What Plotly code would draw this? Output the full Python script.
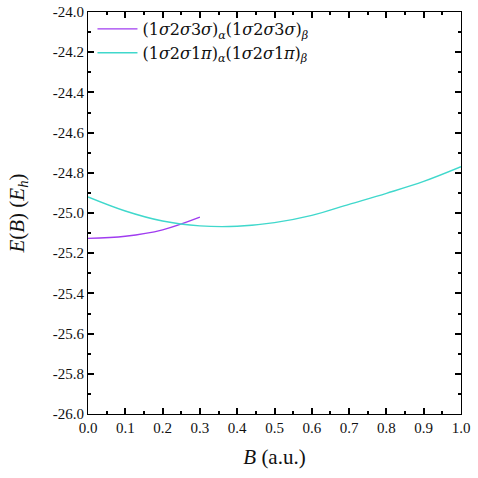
import plotly.graph_objects as go

# Data
b_sigma = [0.0, 0.1, 0.2, 0.3]
e_sigma = [-25.126, -25.116, -25.084, -25.021]

b_pi = [0.0, 0.1, 0.2, 0.3, 0.4, 0.5, 0.6, 0.7, 0.8, 0.9, 1.0]
e_pi = [-24.92, -24.990, -25.040, -25.064, -25.066, -25.048, -25.012, -24.957, -24.902, -24.843, -24.77]

x_ticks = [0.0, 0.1, 0.2, 0.3, 0.4, 0.5, 0.6, 0.7, 0.8, 0.9, 1.0]
y_ticks = [-26.0, -25.8, -25.6, -25.4, -25.2, -25.0, -24.8, -24.6, -24.4, -24.2, -24.0]

name_sigma = "(1<i>σ</i>2<i>σ</i>3<i>σ</i>)<sub><i>α</i></sub>(1<i>σ</i>2<i>σ</i>3<i>σ</i>)<sub><i>β</i></sub>"
name_pi = "(1<i>σ</i>2<i>σ</i>1<i>π</i>)<sub><i>α</i></sub>(1<i>σ</i>2<i>σ</i>1<i>π</i>)<sub><i>β</i></sub>"

FONT = "Liberation Serif, DejaVu Serif, serif"
LFONT = "DejaVu Serif, Liberation Serif, serif"
INK = "#111111"

fig = go.Figure()
fig.add_trace(go.Scatter(x=b_sigma, y=e_sigma, mode="lines", name=name_sigma,
                         line=dict(color="#a03cf0", width=1.4, shape="spline", smoothing=1.0)))
fig.add_trace(go.Scatter(x=b_pi, y=e_pi, mode="lines", name=name_pi,
                         line=dict(color="#40d8cc", width=1.4, shape="spline", smoothing=1.0)))

axis_common = dict(showline=True, linecolor="black", linewidth=1,
                   mirror="allticks", ticks="inside", ticklen=6,
                   tickcolor="black", tickwidth=1.5,
                   tickfont=dict(family=FONT, size=15, color=INK))

fig.update_xaxes(range=[0, 1], tickmode="array", tickvals=x_ticks,
                 ticktext=[f"{v:.1f}" for v in x_ticks], showgrid=False, zeroline=False,
                 minor=dict(ticks="inside", ticklen=3, dtick=0.05, tickcolor="black", tickwidth=1.5),
                 title=dict(text="<i>B</i> (a.u.)", font=dict(family=FONT, size=21, color=INK), standoff=14),
                 **axis_common)
fig.update_yaxes(range=[-26, -24], tickmode="array", tickvals=y_ticks,
                 ticktext=[f"{v:.1f}".replace("\u2212", "-") for v in y_ticks], showgrid=False, zeroline=False,
                 minor=dict(ticks="inside", ticklen=3, dtick=0.1, tickcolor="black", tickwidth=1.5),
                 title=dict(text="<i>E</i>(<i>B</i>) (<i>E<sub>h</sub></i>)", font=dict(family=FONT, size=21, color=INK), standoff=22),
                 **axis_common)

fig.update_layout(
    width=478, height=478,
    margin=dict(l=88, r=17, t=12, b=64, autoexpand=False),
    plot_bgcolor="white", paper_bgcolor="white",
    font=dict(family=FONT, color=INK),
    legend=dict(x=0.012, y=1.0, xanchor="left", yanchor="top",
                bgcolor="rgba(0,0,0,0)", font=dict(family=LFONT, size=16, color=INK),
                itemwidth=40, tracegroupgap=0),
    showlegend=True,
)

fig.write_html("out.html")
